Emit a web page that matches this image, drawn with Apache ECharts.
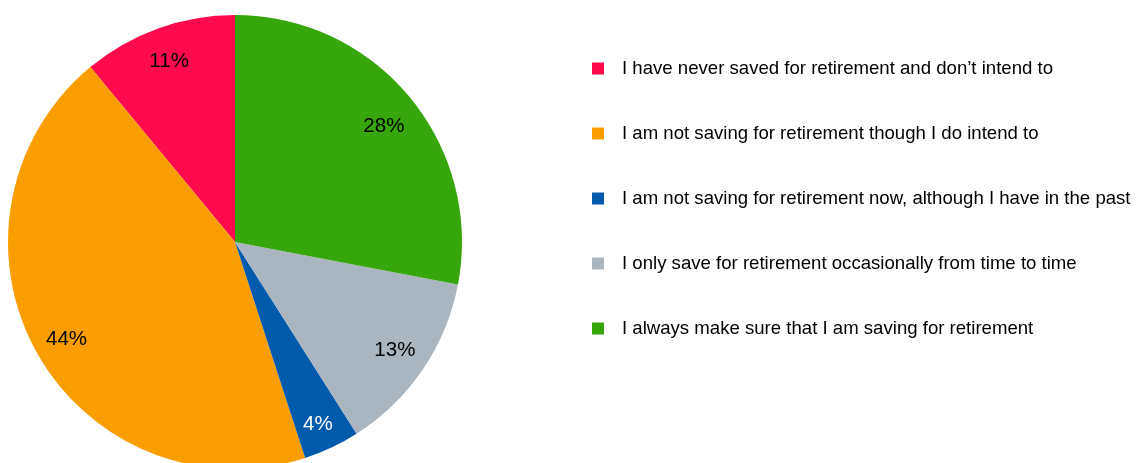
<!DOCTYPE html>
<html>
<head>
<meta charset="utf-8">
<script src="https://cdn.jsdelivr.net/npm/echarts@6/dist/echarts.min.js"></script>
<style>
  html, body { margin: 0; padding: 0; background: #ffffff; }
  #chart { width: 1137px; height: 463px; }
</style>
</head>
<body>
<div id="chart"></div>
<script>
// Retirement saving behaviour, share of respondents (%)
const categories = [
  "I have never saved for retirement and don\u2019t intend to",
  "I am not saving for retirement though I do intend to",
  "I am not saving for retirement now, although I have in the past",
  "I only save for retirement occasionally from time to time",
  "I always make sure that I am saving for retirement"
];
const shares = [11, 44, 4, 13, 28];
const colors = ["#FF0A4C", "#FA9E00", "#005BAC", "#A9B5BF", "#37A60A"];
const labelColors = ["#000000", "#000000", "#ffffff", "#000000", "#000000"];

const FONT = "'Liberation Sans', Arial, sans-serif";
const center = [235, 242];
const outerR = 227;
// small nudges so each percentage sits comfortably inside its slice
const labelNudge = [[0, 2], [2, 4], [0, 6], [-1, -1], [-1, 8]];

const sliceData = categories.map((name, i) => ({
  name,
  value: shares[i],
  itemStyle: { color: colors[i] }
}));

// Percentage labels sit on a transparent ring so they land near the rim
const labelData = categories.map((name, i) => ({
  name,
  value: shares[i],
  itemStyle: { color: "rgba(0,0,0,0)" },
  label: { color: labelColors[i], offset: labelNudge[i] }
}));

const chart = echarts.init(document.getElementById("chart"), null, { renderer: "canvas" });
chart.setOption({
  animation: false,
  color: colors,
  legend: {
    orient: "vertical",
    left: 587,
    top: 54,
    icon: "rect",
    itemWidth: 12,
    itemHeight: 12,
    itemGap: 46,
    data: categories,
    selectedMode: false,
    itemStyle: { borderWidth: 0 },
    textStyle: {
      fontFamily: FONT,
      fontSize: 18.6,
      lineHeight: 19,
      color: "#000000",
      padding: [0, 0, 0, 13]
    }
  },
  series: [
    {
      type: "pie",
      center,
      radius: [0, outerR],
      startAngle: 90,
      clockwise: false,
      silent: true,
      label: { show: false },
      labelLine: { show: false },
      itemStyle: { borderWidth: 0 },
      emphasis: { disabled: true },
      data: sliceData
    },
    {
      type: "pie",
      center,
      radius: [156, outerR],
      startAngle: 90,
      clockwise: false,
      silent: true,
      legendHoverLink: false,
      label: {
        show: true,
        position: "inner",
        formatter: "{c}%",
        fontFamily: FONT,
        fontSize: 20.5,
        textBorderWidth: 0
      },
      labelLine: { show: false },
      itemStyle: { borderWidth: 0 },
      emphasis: { disabled: true },
      data: labelData
    }
  ]
});
</script>
</body>
</html>
